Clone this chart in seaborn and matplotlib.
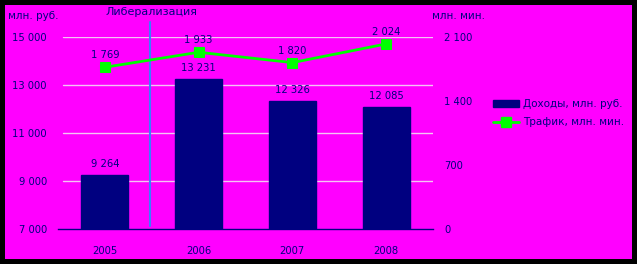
import matplotlib
matplotlib.use("Agg")
import matplotlib.pyplot as plt
import matplotlib.patches as mpatches
from matplotlib.lines import Line2D
import seaborn as sns
import numpy as np

years = ["2005", "2006", "2007", "2008"]
revenue = [9264, 13231, 12326, 12085]
traffic = [1769, 1933, 1820, 2024]
left_ticks = [7000, 9000, 11000, 13000, 15000]
right_ticks = [0, 700, 1400, 2100]

def fmt(v):
    return f"{v:,}".replace(",", " ")

sns.set_style("white")
plt.rcParams['font.family'] = ['DejaVu Sans']

NAVY = "#000080"
MAG = "#FF00FF"
GREEN = "#00FF00"
TXT = "#000080"
FS = 7.2

fig = plt.figure(figsize=(6.37, 2.64), dpi=100, facecolor="black")
fig.patches.append(mpatches.Rectangle((5/637, 5/264), 627/637, 254/264,
                                      transform=fig.transFigure, facecolor=MAG,
                                      edgecolor="none", zorder=-10))
ax = fig.add_axes([58/637, 1-229/264, 375/637, 192/264])
ax.set_facecolor(MAG)

sns.barplot(x=years, y=revenue, color=NAVY, width=0.5, ax=ax, zorder=3,
            saturation=1, edgecolor=NAVY)
ax.set_ylim(7000, 15000)
ax.set_xlim(-0.5, 3.5)
ax.set_yticks(left_ticks)
ax.set_yticklabels([fmt(v) for v in left_ticks], color=TXT, fontsize=FS)
ax.tick_params(axis="y", length=0, pad=8)
ax.tick_params(axis="x", length=0, pad=12)
for lbl in ax.get_xticklabels():
    lbl.set_color(TXT); lbl.set_fontsize(FS)
for y in left_ticks[1:]:
    ax.axhline(y, color="#F4C4F4", lw=1, zorder=1, xmin=5/375)
for s in ["top", "right", "left"]:
    ax.spines[s].set_visible(False)
ax.spines["bottom"].set_color(NAVY)
ax.spines["bottom"].set_linewidth(1)
ax.set_xlabel(""); ax.set_ylabel("")
for i, v in enumerate(revenue):
    ax.text(i, v + 250, fmt(v), ha="center", va="bottom", color=TXT, fontsize=FS, zorder=5)

ax.plot([0.48, 0.48], [7125, 15625], color="#3A7CFF", lw=1.5, clip_on=False, zorder=4)
ax.text(0.5, 15850, "Либерализация", ha="center", va="bottom", color=TXT, fontsize=8)

ax2 = ax.twinx()
ax2.set_position(ax.get_position())
sns.lineplot(x=np.arange(len(years)), y=traffic, ax=ax2, color=GREEN, lw=2,
             marker="s", markersize=7.5, markeredgecolor=GREEN, zorder=6)
ax2.set_ylim(0, 2100)
ax2.set_yticks(right_ticks)
ax2.set_yticklabels([fmt(v) for v in right_ticks], color=TXT, fontsize=FS)
ax2.tick_params(axis="y", length=0, pad=8)
for s in ["top", "right", "left", "bottom"]:
    ax2.spines[s].set_visible(False)
for i, v in enumerate(traffic):
    ax2.text(i, v + 75, fmt(v), ha="center", va="bottom", color=TXT, fontsize=FS)

fig.text(8/637, 1-16/264, "млн. руб.", color=TXT, fontsize=7.5, ha="left", va="center")
fig.text(432/637, 1-16/264, "млн. мин.", color=TXT, fontsize=7.5, ha="left", va="center")

handles = [mpatches.Patch(facecolor=NAVY, edgecolor=NAVY),
           Line2D([0], [0], color=GREEN, lw=2, marker="s", markersize=7.5)]
fig.legend(handles, ["Доходы, млн. руб.", "Трафик, млн. мин."],
           loc="center left", bbox_to_anchor=(484/637, 1-113/264), frameon=False,
           fontsize=7.5, labelcolor=TXT, handlelength=2.5, handletextpad=0.35,
           labelspacing=0.8)

fig.savefig("out.png", dpi=100, facecolor="black")
